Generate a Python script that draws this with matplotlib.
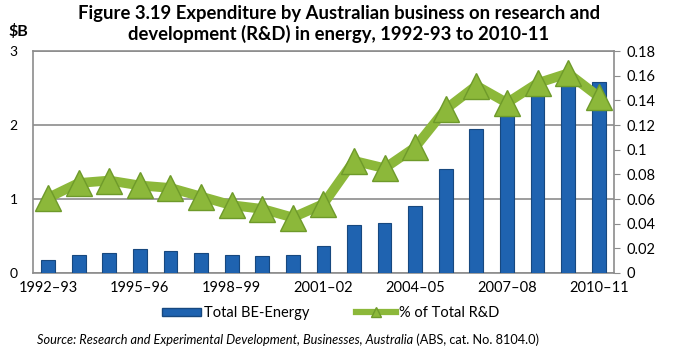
import matplotlib
matplotlib.use("Agg")
import matplotlib.pyplot as plt
from matplotlib.lines import Line2D
from matplotlib.patches import Patch
import numpy as np

plt.rcParams['font.family'] = ['Lato', 'DejaVu Sans']

years = ["1992–93", "1993–94", "1994–95", "1995–96", "1996–97", "1997–98", "1998–99",
         "1999–00", "2000–01", "2001–02", "2002–03", "2003–04", "2004–05", "2005–06",
         "2006–07", "2007–08", "2008–09", "2009–10", "2010–11"]
be_energy = [0.18, 0.24, 0.27, 0.32, 0.30, 0.27, 0.24, 0.23, 0.24, 0.36,
             0.65, 0.68, 0.91, 1.41, 1.95, 2.12, 2.48, 2.57, 2.58]
pct_total = [0.061, 0.073, 0.075, 0.071, 0.069, 0.062, 0.055, 0.052, 0.045, 0.056,
             0.091, 0.085, 0.102, 0.133, 0.152, 0.138, 0.154, 0.162, 0.143]
left_ticks = [0, 1, 2, 3]
right_ticks = [0, 0.02, 0.04, 0.06, 0.08, 0.1, 0.12, 0.14, 0.16, 0.18]
right_labels = ["0", "0.02", "0.04", "0.06", "0.08", "0.1", "0.12", "0.14", "0.16", "0.18"]

fig = plt.figure(figsize=(6.83, 3.55), dpi=100)
ax = fig.add_axes([0.048, 0.231, 0.851, 0.625])
x = np.arange(len(years))

ax.bar(x, be_energy, width=0.45, color="#1f63b0", edgecolor="#17487f", linewidth=0.8, zorder=3)
ax.set_ylim(0, 3)
ax.set_xlim(-0.5, len(years) - 0.5)
ax.set_yticks(left_ticks)
ax.set_yticklabels([str(t) for t in left_ticks], fontsize=10)
ax.tick_params(axis='y', length=0, pad=11)
ax.yaxis.grid(True, color="#8c8c8c", linewidth=1.2, zorder=0)
ax.set_xticks(x[::3])
ax.set_xticklabels(years[::3], fontsize=10.5)
ax.tick_params(axis='x', length=0, pad=6)
for s in ax.spines.values():
    s.set_color("#8c8c8c")
    s.set_linewidth(1.2)

ax2 = ax.twinx()
ax2.plot(x, pct_total, color="#8cb83a", linewidth=7, marker="^", markersize=19,
         markerfacecolor="#8cb83a", markeredgecolor="#6e9a2a", markeredgewidth=1, zorder=4,
         solid_capstyle='round')
ax2.set_ylim(0, 0.18)
ax2.set_yticks(right_ticks)
ax2.set_yticklabels(right_labels, fontsize=10.5)
ax2.tick_params(axis='y', length=4, color="#8c8c8c", pad=5)
for s in ax2.spines.values():
    s.set_visible(False)

fig.text(0.496, 0.985, "Figure 3.19 Expenditure by Australian business on research and\ndevelopment (R&D) in energy, 1992-93 to 2010-11",
         ha="center", va="top", fontsize=13.3, fontweight="bold", linespacing=1.2)
fig.text(0.013, 0.89, "$B", ha="left", va="bottom", fontsize=11.5, fontweight="bold")

handles = [Patch(facecolor="#1f63b0", edgecolor="#17487f"),
           Line2D([0], [0], color="#8cb83a", linewidth=4.5, marker="^", markersize=6.5,
                  markerfacecolor="#8cb83a", markeredgecolor="#6e9a2a")]
fig.legend(handles, ["Total BE-Energy", "% of Total R&D"], loc="center", bbox_to_anchor=(0.484, 0.118),
           ncol=2, frameon=False, fontsize=10.5, handlelength=2.7, handleheight=0.5,
           handletextpad=0.2, columnspacing=3.2)

t1 = fig.text(0.054, 0.042, "Source: Research and Experimental Development, Businesses, Australia",
              ha="left", va="center", fontsize=9.2, style="italic")
fig.canvas.draw()
bb = t1.get_window_extent(renderer=fig.canvas.get_renderer())
fig.text(bb.x1 / fig.bbox.width, 0.042, " (ABS, cat. No. 8104.0)", ha="left", va="center", fontsize=9.2)

fig.savefig("out.png", dpi=100)
